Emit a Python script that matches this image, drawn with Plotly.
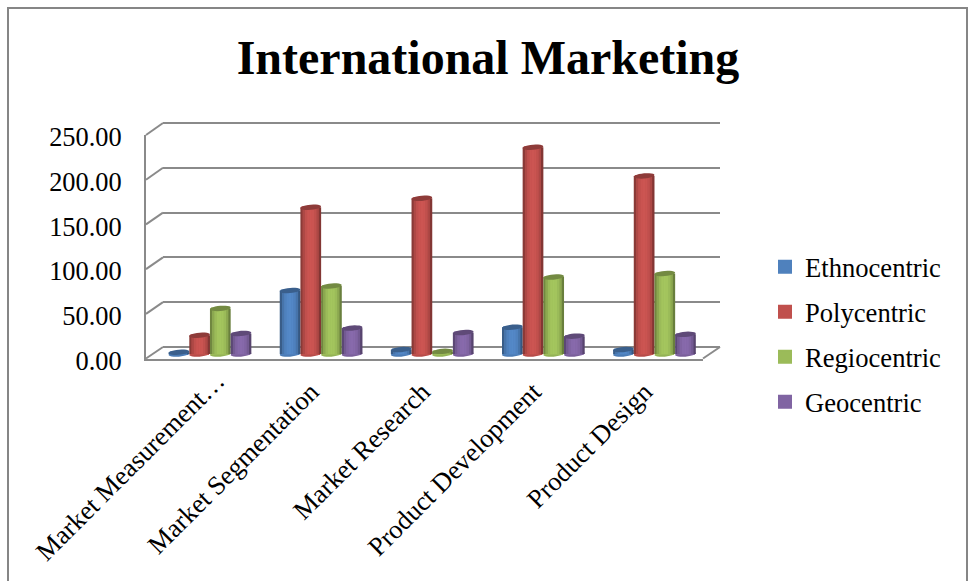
import math
import plotly.graph_objects as go

W, H = 971, 581

categories = ["Market Measurement…", "Market Segmentation", "Market Research",
              "Product Development", "Product Design"]
ethnocentric = [2, 71, 5, 30, 5]
polycentric = [21, 164, 174, 231, 199]
regiocentric = [51, 76, 3, 86, 90]
geocentric = [23, 29, 24, 20, 22]
grid_values = [0, 50, 100, 150, 200, 250]

series = [
    ("Ethnocentric", ethnocentric, (79, 129, 189)),
    ("Polycentric", polycentric, (192, 80, 77)),
    ("Regiocentric", regiocentric, (155, 187, 89)),
    ("Geocentric", geocentric, (128, 100, 162)),
]

# Shading across a cylinder, left edge to right edge
shade = [0.72, 0.9, 1.0, 1.05, 1.06, 1.05, 1.0, 0.9, 0.68]
BAR_W = 0.186
CAP_H = 2.9
CAP_TILT = 1.0
GREY = "#8A8A8A"
SERIF = "Liberation Serif"


def px(x):
    return x / W


def py(y):
    return 1 - y / H


def rgb(c, f=1.0):
    return "rgb(%d,%d,%d)" % tuple(min(255, round(v * f)) for v in c)


def cap_path(cx, v):
    # Slightly tilted ellipse in data units, centred on the bar's value
    pts = []
    for k in range(24):
        t = 2 * math.pi * k / 24
        pts.append((cx + BAR_W / 2 * math.cos(t), v + CAP_H * math.sin(t) + CAP_TILT * math.cos(t)))
    return "M " + " L ".join("%.4f,%.3f" % p for p in pts) + " Z"


fig = go.Figure()

# Back wall, front axis and first-category label each live on their own axes
for xa, ya in (("x", "y"), ("x2", "y2")):
    fig.add_trace(go.Scatter(x=[0], y=[0], xaxis=xa, yaxis=ya, mode="none", showlegend=False, hoverinfo="skip"))

shapes = []
xs = list(range(len(categories)))
for s, (name, vals, col) in enumerate(series):
    left = (s - 2) * BAR_W
    # Core of the bar; its outline also sizes the legend swatch
    fig.add_trace(go.Bar(x=xs, y=vals, name=name, xaxis="x3", yaxis="y3",
                         width=BAR_W * 0.8, offset=left + BAR_W * 0.1,
                         marker=dict(color=rgb(col), line=dict(color=rgb(col), width=2)),
                         legendgroup=name))
    strip = BAR_W / len(shade)
    for k, f in enumerate(shade):
        fig.add_trace(go.Bar(x=xs, y=vals, xaxis="x3", yaxis="y3", width=strip * 1.02,
                             offset=left + k * strip, marker=dict(color=rgb(col, f), line_width=0),
                             legendgroup=name, showlegend=False, hoverinfo="skip"))
    for i, v in zip(xs, vals):
        # Rounded foot under the cylinder, darker cap on top
        shapes.append(dict(type="path", xref="x3", yref="y3", layer="below",
                           path=cap_path(i + left + BAR_W / 2, 0),
                           fillcolor=rgb(col, 0.95), line_width=0))
        shapes.append(dict(type="path", xref="x3", yref="y3", layer="above",
                           path=cap_path(i + left + BAR_W / 2, v),
                           fillcolor=rgb(col, 0.74), line_width=0))

fig.add_trace(go.Scatter(x=[0], y=[0], xaxis="x4", yaxis="y3", mode="none", showlegend=False, hoverinfo="skip"))

# Wall-to-front connectors at each gridline, floor edges and the outer frame
FRONT_L, FRONT_R, FRONT_T, FRONT_B = 146, 703, 135, 358.5
BACK_L, BACK_R, BACK_T, BACK_B = 163, 720, 123, 347
BACK_PAD = 5 * (BACK_B - BACK_T) / 250


def front_y(v):
    return FRONT_B - (FRONT_B - FRONT_T) * v / 250


def back_y(v):
    return BACK_B - (BACK_B - BACK_T) * v / 250


line = dict(color=GREY, width=2)
for v in grid_values:
    shapes.append(dict(type="line", xref="paper", yref="paper", layer="below", line=line,
                       x0=px(FRONT_L), y0=py(front_y(v)), x1=px(BACK_L), y1=py(back_y(v))))
shapes.append(dict(type="line", xref="paper", yref="paper", layer="below", line=line,
                   x0=px(FRONT_R), y0=py(front_y(0)), x1=px(BACK_R), y1=py(back_y(0))))
shapes.append(dict(type="path", xref="paper", yref="paper", layer="below",
                   line=dict(color="#868686", width=2),
                   path="M %f %f L %f %f L %f %f L %f %f" % (
                       px(8), py(581), px(8), py(8), px(967), py(8), px(967), py(581))))

BAR_DOMAIN = [px(154.4), px(710)]
fig.update_layout(
    width=W, height=H, autosize=False,
    margin=dict(l=0, r=0, t=0, b=0, pad=0, autoexpand=False),
    paper_bgcolor="white", plot_bgcolor="rgba(0,0,0,0)",
    barmode="overlay",
    font=dict(family=SERIF, size=26, color="black"),
    title=dict(text="<b>International Marketing</b>", x=488 / W, xanchor="center", xref="paper",
               y=py(74), yanchor="bottom", yref="paper", pad=dict(b=0),
               font=dict(family=SERIF, size=48, color="black"), automargin=False),
    shapes=shapes,
    showlegend=True,
    legend=dict(x=px(772), y=py(243), xanchor="left", yanchor="top", bgcolor="rgba(0,0,0,0)",
                traceorder="grouped", tracegroupgap=7.4, indentation=-7,
                font=dict(family=SERIF, size=26.6, color="black")),
    # Back wall gridlines
    xaxis=dict(domain=[px(BACK_L), px(BACK_R)], range=[0, 1], visible=False, anchor="y", automargin=False),
    yaxis=dict(domain=[py(BACK_B + BACK_PAD), py(BACK_T - BACK_PAD)], range=[-5, 255], tickvals=grid_values,
               showticklabels=False, showgrid=True, gridcolor=GREY, gridwidth=2, zeroline=False,
               showline=False, anchor="x", automargin=False),
    # Front axis with its value labels
    xaxis2=dict(domain=[px(FRONT_L), px(FRONT_R)], range=[0, 1], anchor="y2", showticklabels=False,
                showgrid=False, zeroline=False, showline=True, linecolor=GREY, linewidth=2, ticks="",
                automargin=False),
    yaxis2=dict(domain=[py(FRONT_B), py(FRONT_T)], range=[0, 250], anchor="x2", tickvals=grid_values,
                tickformat=".2f", showgrid=False, zeroline=False, showline=True, linecolor=GREY, linewidth=2,
                ticks="", ticklabelstandoff=17, ticklabelshift=2, tickfont=dict(family=SERIF, size=26.4),
                automargin=False),
    # Bars and the category labels
    xaxis3=dict(domain=BAR_DOMAIN, range=[-0.5, 4.5], anchor="y3", tickvals=xs[1:], ticktext=categories[1:],
                tickangle=-45, showgrid=False, zeroline=False, showline=False, ticks="",
                ticklabelstandoff=7, ticklabelshift=-10,
                tickfont=dict(family=SERIF, size=26.5), automargin=False),
    xaxis4=dict(domain=BAR_DOMAIN, range=[-0.5, 4.5], anchor="y3", tickvals=xs[:1], ticktext=categories[:1],
                tickangle=-45, showgrid=False, zeroline=False, showline=False, ticks="",
                ticklabelshift=7, ticklabelstandoff=-4, tickfont=dict(family=SERIF, size=26.5),
                automargin=False),
    yaxis3=dict(domain=[py(363), py(130.25)], range=[-10, 250], anchor="x3", visible=False,
                showgrid=False, zeroline=False, automargin=False),
)

fig.write_html("out.html")
